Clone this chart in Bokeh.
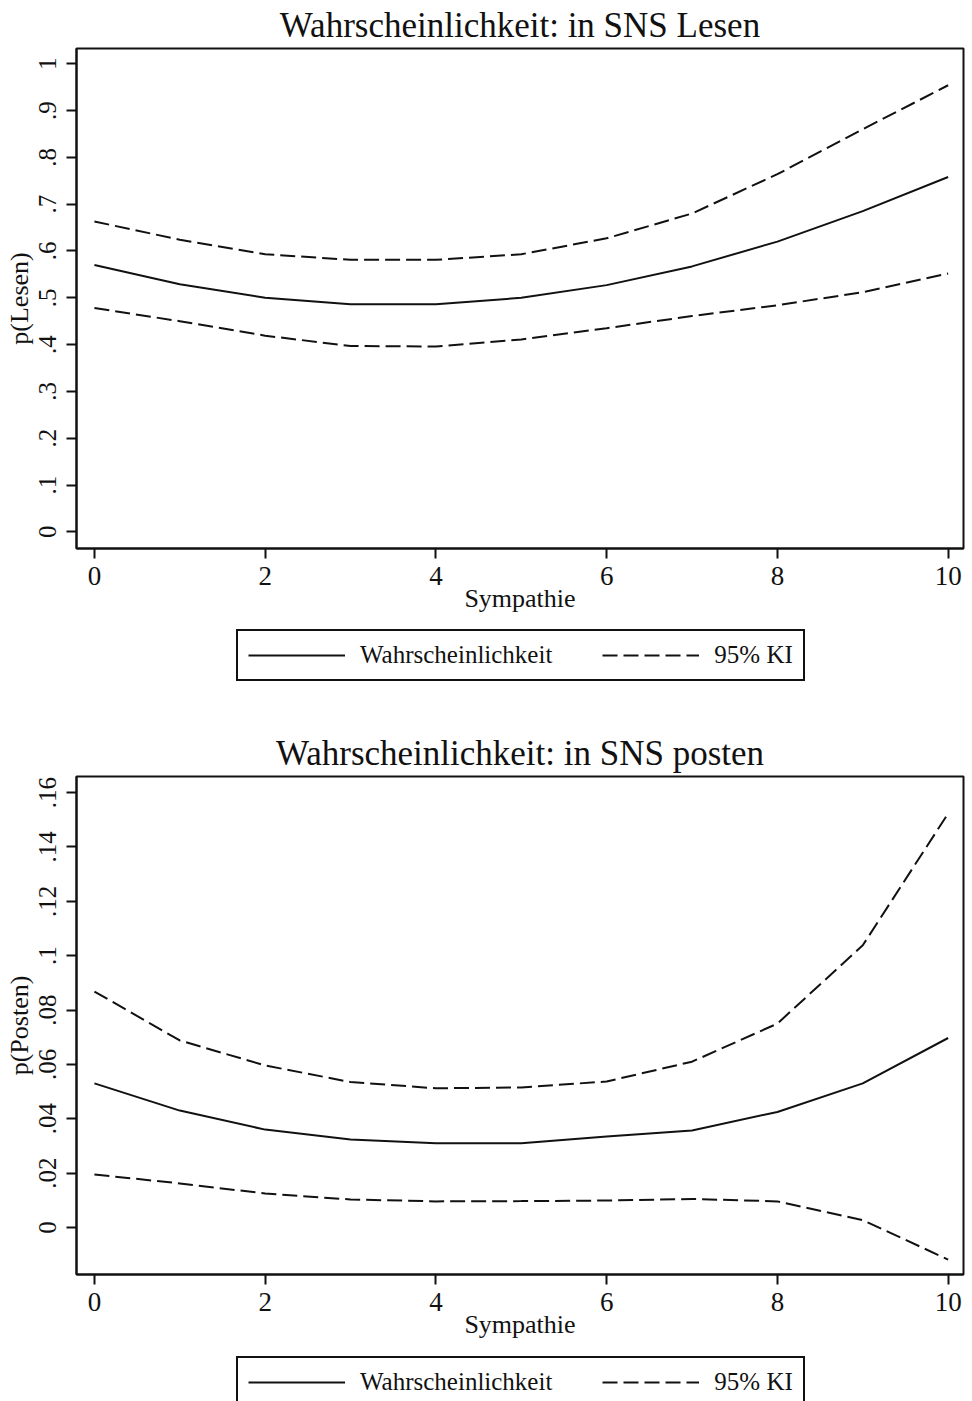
from bokeh.plotting import figure
from bokeh.models import Range1d, FixedTicker, Legend, LegendItem, Spacer
from bokeh.layouts import column
from bokeh.embed import file_html
from bokeh.resources import INLINE

# ---------------- data ----------------
sympathie = [0, 1, 2, 3, 4, 5, 6, 7, 8, 9, 10]

lesen_p = [0.570, 0.529, 0.500, 0.486, 0.486, 0.500, 0.527, 0.567, 0.620, 0.685, 0.758]
lesen_hi = [0.663, 0.624, 0.593, 0.581, 0.581, 0.593, 0.627, 0.680, 0.764, 0.860, 0.954]
lesen_lo = [0.478, 0.450, 0.419, 0.397, 0.396, 0.411, 0.435, 0.461, 0.484, 0.512, 0.552]

posten_p = [0.053, 0.043, 0.036, 0.0324, 0.031, 0.031, 0.0335, 0.0357, 0.0425, 0.053, 0.0697]
posten_hi = [0.0868, 0.0688, 0.0596, 0.0535, 0.0512, 0.0515, 0.0537, 0.061, 0.075, 0.1038, 0.1523]
posten_lo = [0.0195, 0.0162, 0.0125, 0.0103, 0.0096, 0.0097, 0.0099, 0.0105, 0.0096, 0.0027, -0.0118]

x_ticks = [0, 2, 4, 6, 8, 10]
lesen_yticks = [0, 0.1, 0.2, 0.3, 0.4, 0.5, 0.6, 0.7, 0.8, 0.9, 1.0]
lesen_ylabels = ["0", ".1", ".2", ".3", ".4", ".5", ".6", ".7", ".8", ".9", "1"]
posten_yticks = [0, 0.02, 0.04, 0.06, 0.08, 0.10, 0.12, 0.14, 0.16]
posten_ylabels = ["0", ".02", ".04", ".06", ".08", ".1", ".12", ".14", ".16"]
legend_labels = ["Wahrscheinlichkeit", "95% KI"]

FONT = "Liberation Serif"
INK = "#111111"
DASH = "15 6"


def make_panel(title, ylabel, p_vals, hi_vals, lo_vals, yticks, ylabels, yr, fh):
    p = figure(frame_width=887, frame_height=fh, output_backend="svg", toolbar_location=None,
               x_range=Range1d(-0.21, 10.18), y_range=Range1d(*yr),
               min_border_left=76, min_border_right=5, min_border_top=46,
               min_border_bottom=72)
    p.background_fill_color = "white"
    p.border_fill_color = "white"
    p.outline_line_color = INK
    p.outline_line_width = 2
    p.grid.visible = False

    p.title.text = title
    p.title.align = "center"
    p.title.text_font = FONT
    p.title.text_font_style = "normal"
    p.title.text_font_size = "35px"
    p.title.text_color = INK
    p.title.standoff = 7

    p.line(sympathie, p_vals, line_color=INK, line_width=2)
    p.line(sympathie, hi_vals, line_color=INK, line_width=2, line_dash=DASH)
    p.line(sympathie, lo_vals, line_color=INK, line_width=2, line_dash=DASH)

    for ax in (p.xaxis[0], p.yaxis[0]):
        ax.axis_line_color = INK
        ax.axis_line_width = 2
        ax.major_tick_line_color = INK
        ax.major_tick_line_width = 2
        ax.major_tick_out = 10
        ax.major_tick_in = 0
        ax.minor_tick_line_color = None
        ax.major_label_text_font = FONT
        ax.major_label_text_color = INK
        ax.axis_label_text_font = FONT
        ax.axis_label_text_font_style = "normal"
        ax.axis_label_text_color = INK

    p.xaxis.ticker = FixedTicker(ticks=x_ticks)
    p.xaxis.axis_label = "Sympathie"
    p.xaxis.major_label_text_font_size = "27px"
    p.xaxis.axis_label_text_font_size = "26px"
    p.xaxis.major_label_standoff = 8
    p.xaxis.axis_label_standoff = -4

    p.yaxis.ticker = FixedTicker(ticks=yticks)
    p.yaxis.major_label_overrides = {t: l for t, l in zip(yticks, ylabels)}
    p.yaxis.major_label_orientation = "vertical"
    p.yaxis.major_label_text_font_size = "25px"
    p.yaxis.axis_label_text_font_size = "26px"
    p.yaxis.major_label_standoff = 10
    p.yaxis.axis_label = ylabel
    p.yaxis.axis_label_standoff = 3
    return p


def make_legend(height, box_bottom):
    lp = figure(width=972, height=height, output_backend="svg", toolbar_location=None,
                x_range=Range1d(100, 101), y_range=Range1d(100, 101),
                x_axis_type=None, y_axis_type=None,
                min_border_left=0, min_border_right=0, min_border_top=0,
                min_border_bottom=0)
    lp.outline_line_color = None
    lp.grid.visible = False
    lp.background_fill_color = "white"
    lp.border_fill_color = "white"
    solid = lp.line(sympathie, lesen_p, line_color=INK, line_width=2)
    dashed = lp.line(sympathie, lesen_hi, line_color=INK, line_width=2, line_dash=DASH)
    legend = Legend(items=[LegendItem(label=legend_labels[0], renderers=[solid]),
                           LegendItem(label=legend_labels[1], renderers=[dashed])],
                    orientation="horizontal", location=(160, box_bottom),
                    border_line_color=INK, border_line_width=2, border_line_alpha=1,
                    glyph_width=97, glyph_height=20, label_standoff=15, spacing=50,
                    padding=10, margin=0,
                    label_text_font=FONT, label_text_font_size="25px",
                    label_text_color=INK, background_fill_color="white",
                    background_fill_alpha=1)
    lp.add_layout(legend, "center")
    return lp


p1 = make_panel("Wahrscheinlichkeit: in SNS Lesen", "p(Lesen)",
                lesen_p, lesen_hi, lesen_lo, lesen_yticks, lesen_ylabels,
                (-0.0356, 1.0325), 500)
p2 = make_panel("Wahrscheinlichkeit: in SNS posten", "p(Posten)",
                posten_p, posten_hi, posten_lo, posten_yticks, posten_ylabels,
                (-0.0173, 0.1659), 498)
leg1 = make_legend(72, 11)
leg2 = make_legend(58, -4)

layout = column(p1, leg1, Spacer(width=10, height=36), p2, leg2, spacing=0)
open("out.html", "w").write(file_html(layout, INLINE))
